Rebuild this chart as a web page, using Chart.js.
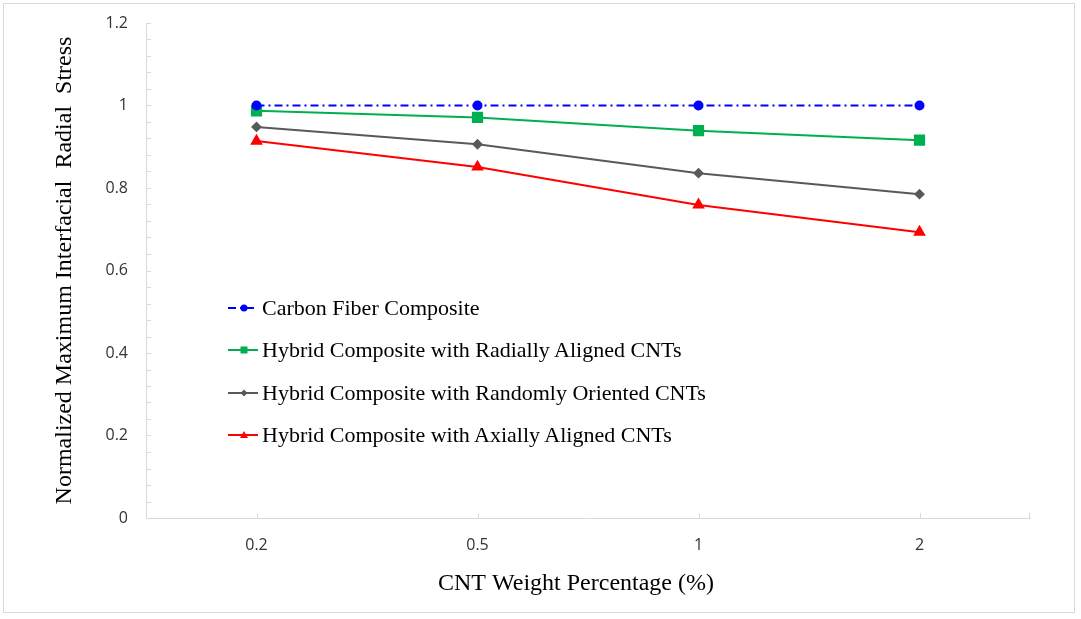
<!DOCTYPE html>
<html>
<head>
<meta charset="utf-8">
<script src="https://cdn.jsdelivr.net/npm/chart.js@4"></script>
<style>
  html, body { margin: 0; padding: 0; background: #fff; }
  #wrap { position: relative; width: 1081px; height: 619px; }
  #frame { position: absolute; left: 3px; top: 3px; width: 1072px; height: 610px; border: 1px solid #d9d9d9; box-sizing: border-box; pointer-events: none; }
  #legend { position: absolute; left: 228px; top: 287px; font-family: "Liberation Serif", "Times New Roman", serif; font-size: 22px; color: #000; }
  #legend .item { height: 42.3px; display: flex; align-items: center; white-space: nowrap; }
  #legend svg { width: 33px; height: 14px; margin-right: 1px; flex: none; }
</style>
</head>
<body>
<div id="wrap">
  <canvas id="chart" width="1081" height="619"></canvas>
  <div id="frame"></div>
  <div id="legend"></div>
</div>
<script>
// data
const categories = ['0.2', '0.5', '1', '2'];
const carbonFiber = [1.0, 1.0, 1.0, 1.0];
const radiallyAligned = [0.987, 0.971, 0.939, 0.916];
const randomlyOriented = [0.948, 0.906, 0.836, 0.785];
const axiallyAligned = [0.914, 0.851, 0.759, 0.693];

const seriesNames = [
  'Carbon Fiber Composite',
  'Hybrid Composite with Radially Aligned CNTs',
  'Hybrid Composite with Randomly Oriented CNTs',
  'Hybrid Composite with Axially Aligned CNTs'
];
const yMin = 0, yMax = 1.2, yLabelStep = 0.2, yMinorStep = 0.04;

const axisColor = '#d9d9d9';
const tickFont = { family: '"Open Sans", "Liberation Sans", sans-serif', size: 16 };
const titleFont = { family: '"Liberation Serif", "Times New Roman", serif', size: 24 };

// Excel style inside tick marks
const innerTicks = {
  id: 'innerTicks',
  afterDraw(chart) {
    const ctx = chart.ctx;
    const x = chart.scales.x, y = chart.scales.y;
    ctx.save();
    ctx.strokeStyle = axisColor;
    ctx.lineWidth = 1;
    ctx.beginPath();
    for (let v = yMin; v <= yMax + 1e-9; v += yMinorStep) {
      const py = Math.round(y.getPixelForValue(v)) + 0.5;
      ctx.moveTo(x.left, py);
      ctx.lineTo(x.left + 5, py);
    }
    categories.forEach((c, i) => {
      const px = Math.round(x.getPixelForValue(i)) + 0.5;
      ctx.moveTo(px, y.bottom);
      ctx.lineTo(px, y.bottom - 5);
    });
    ctx.moveTo(x.right - 0.5, y.bottom);
    ctx.lineTo(x.right - 0.5, y.bottom - 5);
    ctx.stroke();
    ctx.restore();
  }
};

const chart = new Chart(document.getElementById('chart'), {
  type: 'line',
  data: {
    labels: categories,
    datasets: [
      {
        label: seriesNames[0], data: carbonFiber,
        borderColor: '#0000ff', backgroundColor: '#0000ff', borderWidth: 2,
        borderDash: [8, 4, 2, 4], pointStyle: 'circle', pointRadius: 4
      },
      {
        label: seriesNames[1], data: radiallyAligned,
        borderColor: '#00b050', backgroundColor: '#00b050', borderWidth: 2,
        pointStyle: 'rect', pointRadius: 6.5
      },
      {
        label: seriesNames[2], data: randomlyOriented,
        borderColor: '#595959', backgroundColor: '#595959', borderWidth: 2,
        pointStyle: 'rectRot', pointRadius: 4
      },
      {
        label: seriesNames[3], data: axiallyAligned,
        borderColor: '#ff0000', backgroundColor: '#ff0000', borderWidth: 2,
        pointStyle: 'triangle', pointRadius: 5.3
      }
    ]
  },
  options: {
    responsive: false,
    animation: false,
    layout: { padding: { left: 0, top: 23, right: 51, bottom: 0 } },
    plugins: { legend: { display: false }, tooltip: { enabled: false } },
    elements: { line: { tension: 0 }, point: { borderWidth: 0 } },
    scales: {
      x: {
        type: 'category',
        offset: true,
        grid: { display: true, drawOnChartArea: false, drawTicks: false },
        border: { display: true, color: axisColor, width: 1 },
        ticks: { font: tickFont, color: '#333', padding: 18, maxRotation: 0 },
        title: { display: true, text: 'CNT Weight Percentage (%)    ', font: titleFont, color: '#000', padding: { top: 0, bottom: 21 } },
        afterFit(scale) { scale.height = 101; scale.paddingLeft = 0; scale.paddingRight = 0; }
      },
      y: {
        min: yMin, max: yMax,
        grid: { display: true, drawOnChartArea: false, drawTicks: false },
        border: { display: true, color: axisColor, width: 1 },
        ticks: {
          stepSize: yLabelStep, font: tickFont, color: '#333', padding: 18,
          callback: v => Math.round(v * 10) / 10
        },
        title: { display: true, text: 'Normalized Maximum Interfacial  Radial  Stress', font: titleFont, color: '#000', padding: { top: 50, bottom: 0 } },
        afterFit(scale) { scale.width = 146; scale.paddingTop = 0; scale.paddingBottom = 0; }
      }
    }
  },
  plugins: [innerTicks]
});

// legend drawn inside the plot, like the original
function swatch(ds) {
  const c = ds.borderColor;
  const dash = ds.borderDash ? 'stroke-dasharray="' + ds.borderDash.join(' ') + '"' : '';
  let mark = '';
  if (ds.pointStyle === 'circle') mark = '<circle cx="16" cy="7" r="3.5" fill="' + c + '"/>';
  if (ds.pointStyle === 'rect') mark = '<rect x="12.5" y="3.5" width="7" height="7" fill="' + c + '"/>';
  if (ds.pointStyle === 'rectRot') mark = '<polygon points="16,3.5 19.5,7 16,10.5 12.5,7" fill="' + c + '"/>';
  if (ds.pointStyle === 'triangle') mark = '<polygon points="16,3 20,10 12,10" fill="' + c + '"/>';
  const len = ds.borderDash ? 26 : 30;
  return '<svg viewBox="0 0 33 14"><line x1="0" y1="7" x2="' + len + '" y2="7" stroke="' + c + '" stroke-width="2" ' + dash + '/>' + mark + '</svg>';
}
const legend = document.getElementById('legend');
chart.data.datasets.forEach(ds => {
  const item = document.createElement('div');
  item.className = 'item';
  item.innerHTML = swatch(ds) + '<span>' + ds.label + '</span>';
  legend.appendChild(item);
});
</script>
</body>
</html>
